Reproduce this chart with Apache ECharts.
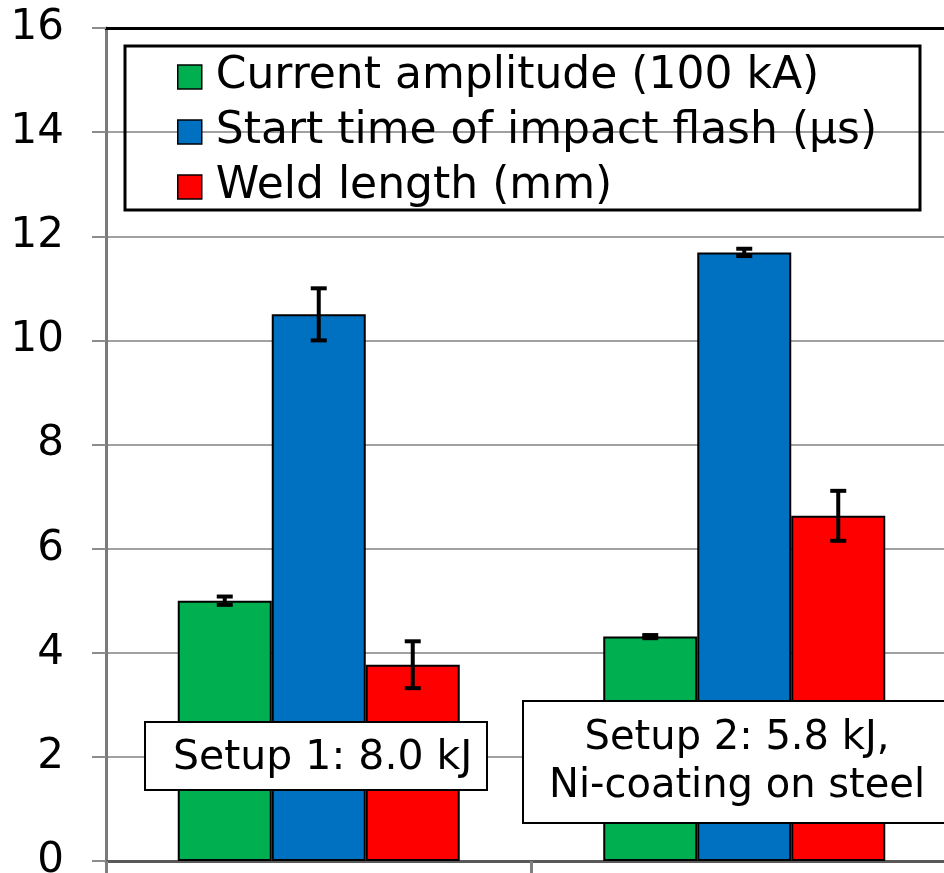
<!DOCTYPE html>
<html>
<head>
<meta charset="utf-8">
<script src="https://cdn.jsdelivr.net/npm/echarts@6/dist/echarts.min.js"></script>
<style>html,body{margin:0;padding:0;background:#fff}#c{width:944px;height:873px}</style>
</head>
<body>
<div id="c"></div>
<script>
const categories = ['Setup 1', 'Setup 2'];
const seriesNames = ['Current amplitude (100 kA)', 'Start time of impact flash (µs)', 'Weld length (mm)'];
const currentAmplitude = [5.0, 4.31];
const currentAmplitudeErr = [0.08, 0.03];
const startTime = [10.5, 11.69];
const startTimeErr = [0.5, 0.07];
const weldLength = [3.77, 6.63];
const weldLengthErr = [0.45, 0.48];
const yTicks = [0, 2, 4, 6, 8, 10, 12, 14, 16];
const annotation1 = 'Setup 1: 8.0 kJ';
const annotation2 = 'Setup 2: 5.8 kJ,\nNi-coating on steel';

const colors = ['#00B050', '#0070C0', '#FF0000'];
const FONT = 'DejaVu Sans';
const BAR_W = 94;

const values = [currentAmplitude, startTime, weldLength];
const errs = [currentAmplitudeErr, startTimeErr, weldLengthErr];

const chart = echarts.init(document.getElementById('c'), null, {renderer: 'canvas'});

const barSeries = values.map((v, i) => ({
  name: seriesNames[i],
  type: 'bar',
  data: v,
  barWidth: BAR_W,
  barGap: '0%',
  itemStyle: {color: colors[i], borderColor: '#000', borderWidth: 2},
  z: 2
}));

const errSeries = values.map((v, i) => ({
  type: 'custom',
  name: 'err' + i,
  silent: true,
  z: 5,
  data: v.map((val, k) => [k, val - errs[i][k], val + errs[i][k]]),
  renderItem: function (params, api) {
    const off = (i - 1) * BAR_W;
    const lo = api.coord([api.value(0), api.value(1)]);
    const hi = api.coord([api.value(0), api.value(2)]);
    const x = lo[0] + off;
    const cap = 8;
    const st = {stroke: '#000', lineWidth: 4};
    return {
      type: 'group',
      children: [
        {type: 'line', shape: {x1: x, y1: lo[1], x2: x, y2: hi[1]}, style: st},
        {type: 'line', shape: {x1: x - cap, y1: lo[1], x2: x + cap, y2: lo[1]}, style: st},
        {type: 'line', shape: {x1: x - cap, y1: hi[1], x2: x + cap, y2: hi[1]}, style: st}
      ]
    };
  }
}));

const option = {
  animation: false,
  backgroundColor: '#fff',
  textStyle: {fontFamily: FONT},
  grid: {left: 106, top: 28, width: 851, height: 833, containLabel: false, outerBoundsMode: 'none'},
  legend: {
    data: seriesNames,
    orient: 'vertical',
    left: 177,
    top: 55,
    padding: 0,
    itemWidth: 24,
    itemHeight: 24,
    itemGap: 11,
    icon: 'rect',
    selectedMode: false,
    itemStyle: {borderColor: '#000', borderWidth: 1.5},
    textStyle: {fontFamily: FONT, fontSize: 44, color: '#000', lineHeight: 30, padding: [0, 0, 0, 9]}
  },
  xAxis: [
    {
      type: 'category',
      data: categories,
      position: 'bottom',
      axisLine: {lineStyle: {color: '#595959', width: 3}},
      axisTick: {show: true, length: 12, lineStyle: {color: '#7f7f7f', width: 3}},
      axisLabel: {show: false},
      splitLine: {show: false}
    },
    {
      type: 'category',
      data: categories,
      position: 'top',
      axisLine: {lineStyle: {color: '#000', width: 3}},
      axisTick: {show: false},
      axisLabel: {show: false},
      splitLine: {show: false}
    }
  ],
  yAxis: {
    type: 'value',
    min: yTicks[0],
    max: yTicks[yTicks.length - 1],
    interval: yTicks[1] - yTicks[0],
    axisLine: {show: true, lineStyle: {color: '#7a7a7a', width: 3}},
    axisTick: {show: true, length: 14, lineStyle: {color: '#8c8c8c', width: 2}},
    axisLabel: {color: '#000', fontSize: 42, fontFamily: FONT, margin: 42},
    splitLine: {show: true, lineStyle: {color: '#a0a0a0', width: 2}}
  },
  graphic: [
    {
      type: 'rect', z: 100,
      shape: {x: 125, y: 46, width: 795, height: 164},
      style: {fill: 'none', stroke: '#000', lineWidth: 3}
    },
    {
      type: 'rect', z: 100,
      shape: {x: 145, y: 722, width: 342, height: 68},
      style: {fill: '#fff', stroke: '#000', lineWidth: 2}
    },
    {
      type: 'text', z: 101,
      x: 173, y: 758,
      style: {text: annotation1, font: '41px "DejaVu Sans"', fill: '#000', verticalAlign: 'middle', align: 'left'}
    },
    {
      type: 'rect', z: 100,
      shape: {x: 523, y: 701, width: 440, height: 122},
      style: {fill: '#fff', stroke: '#000', lineWidth: 2}
    },
    {
      type: 'text', z: 101,
      x: 737, y: 763,
      style: {text: annotation2, font: '40px "DejaVu Sans"', lineHeight: 48, fill: '#000', verticalAlign: 'middle', align: 'center'}
    }
  ],
  series: [...barSeries, ...errSeries]
};
chart.setOption(option);
</script>
</body>
</html>
